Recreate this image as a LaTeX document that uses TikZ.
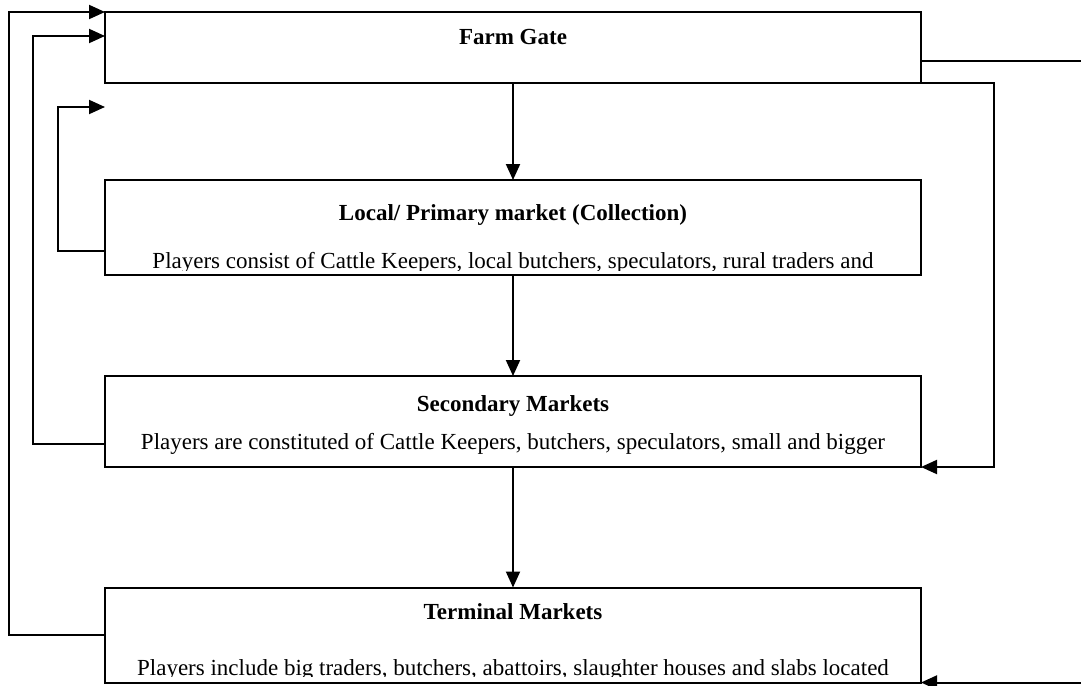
\documentclass[tikz,border=0pt]{standalone}
\usepackage{fontspec}
\setmainfont{Liberation Serif}
\usetikzlibrary{arrows.meta}
\begin{document}
\begin{tikzpicture}[x=1pt,y=-1pt,
  box/.style={draw,line width=2pt,inner sep=0pt,outer sep=0pt,minimum width=816pt},
  ttl/.style={font=\fontsize{23}{27}\selectfont\bfseries,anchor=base,inner sep=0pt},
  body/.style={font=\fontsize{23}{27}\selectfont,anchor=base,inner sep=0pt},
  conn/.style={line width=2pt},
  arr/.style={conn,-{Triangle[length=16pt,width=14pt]}}]
\useasboundingbox (0,0) rectangle (1081,685);
% boxes
\node[box,minimum height=71pt] (farm) at (513,47.5) {};
\node[box,minimum height=95pt] (local) at (513,227.5) {};
\node[box,minimum height=91pt] (sec) at (513,421.5) {};
\node[box,minimum height=95pt] (term) at (513,635) {};
% texts
\node[ttl] (farmT) at (513,45) {Farm Gate};
\node[ttl] (localT) at (513,220) {Local/ Primary market (Collection)};
\begin{scope}
  \clip (105,180) rectangle (921,270);
  \node[body] (localB) at (513,268) {Players consist of Cattle Keepers, local butchers, speculators, rural traders and};
\end{scope}
\node[ttl] (secT) at (513,411) {Secondary Markets};
\node[body] (secB) at (513,449) {Players are constituted of Cattle Keepers, butchers, speculators, small and bigger};
\node[ttl] (termT) at (513,619) {Terminal Markets};
\begin{scope}
  \clip (105,588) rectangle (921,676.5);
  \node[body] (termB) at (513,675) {Players include big traders, butchers, abattoirs, slaughter houses and slabs located};
\end{scope}
% vertical flow
\draw[arr] (farm.south) -- (local.north);
\draw[arr] (local.south) -- (sec.north);
\draw[arr] (sec.south) -- (term.north);
% left feedback loops
\coordinate (c1) at (105,107);
\draw[arr] (term.west) -- ++(-96,0) |- (farm.north west);
\draw[arr] ([yshift=-22.5pt]sec.west) -- ++(-72,0) |- ([yshift=-24pt]farm.north west);
\draw[arr] ([yshift=-23.5pt]local.west) -- ++(-47,0) |- (c1);
% right bypasses
\draw[arr] (farm.south east) -- ++(73,0) |- (sec.south east);
\draw[arr] ([yshift=-49pt]farm.north east) -- ++(180,0) |- (term.south east);
\end{tikzpicture}
\end{document}
